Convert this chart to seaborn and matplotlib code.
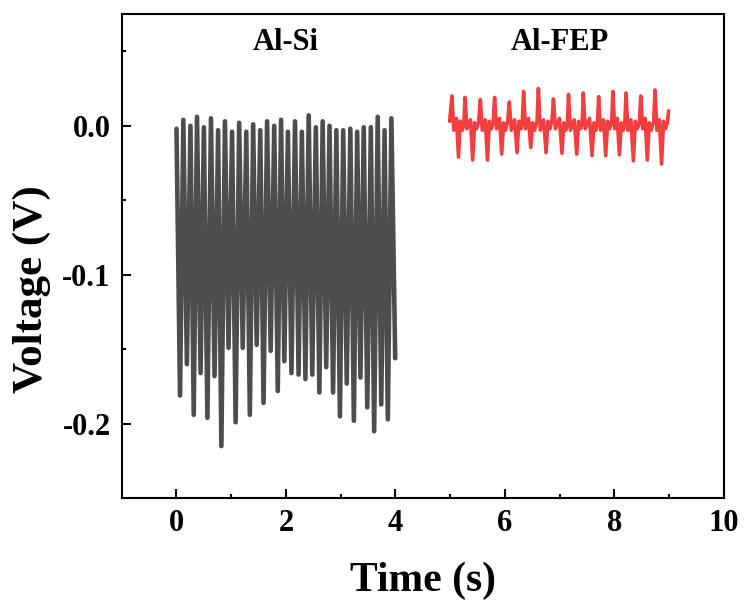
import numpy as np
import pandas as pd
import matplotlib.pyplot as plt
import seaborn as sns

# Al-Si trace, turning points (time in s, voltage in V)
si_peak_t = [0.000, 0.125, 0.255, 0.375, 0.500, 0.630, 0.760, 0.885, 1.015, 1.145,
             1.275, 1.400, 1.530, 1.655, 1.785, 1.910, 2.035, 2.165, 2.290, 2.415,
             2.545, 2.670, 2.795, 2.920, 3.045, 3.175, 3.300, 3.420, 3.550, 3.675,
             3.800, 3.925]
si_peak_v = [-0.002, 0.004, 0.000, 0.006, -0.001, 0.005, -0.003, 0.003, -0.004, 0.002,
             -0.004, 0.001, -0.003, 0.003, 0.000, 0.004, -0.004, 0.003, -0.004, 0.007,
             -0.001, 0.003, 0.000, -0.003, -0.003, -0.002, -0.004, -0.001, -0.001, 0.006,
             -0.003, 0.005]
si_trough_t = [0.065, 0.190, 0.315, 0.440, 0.565, 0.695, 0.820, 0.950, 1.080, 1.210,
               1.340, 1.465, 1.590, 1.720, 1.850, 1.970, 2.100, 2.230, 2.355, 2.480,
               2.610, 2.735, 2.860, 2.985, 3.110, 3.240, 3.360, 3.485, 3.610, 3.740,
               3.860, 3.995]
si_trough_v = [-0.181, -0.160, -0.194, -0.166, -0.196, -0.168, -0.215, -0.149, -0.199, -0.149,
               -0.194, -0.147, -0.186, -0.151, -0.178, -0.158, -0.166, -0.167, -0.170, -0.167,
               -0.179, -0.162, -0.179, -0.195, -0.173, -0.198, -0.169, -0.189, -0.205, -0.187,
               -0.197, -0.156]

# Al-FEP trace, vertices
fep_t = [4.990,
         5.030, 5.065, 5.115, 5.150, 5.185, 5.220, 5.250,
         5.270, 5.305, 5.370, 5.410, 5.445, 5.480, 5.520,
         5.550, 5.585, 5.640, 5.680, 5.715, 5.750, 5.785,
         5.810, 5.845, 5.900, 5.940, 5.975, 6.010, 6.050,
         6.080, 6.115, 6.175, 6.220, 6.255, 6.290, 6.315,
         6.340, 6.375, 6.430, 6.470, 6.505, 6.540, 6.585,
         6.610, 6.645, 6.705, 6.750, 6.785, 6.820, 6.860,
         6.885, 6.920, 6.995, 7.040, 7.075, 7.110, 7.140,
         7.160, 7.195, 7.265, 7.310, 7.345, 7.380, 7.410,
         7.430, 7.465, 7.545, 7.590, 7.625, 7.660, 7.690,
         7.710, 7.745, 7.800, 7.840, 7.875, 7.910, 7.950,
         7.970, 8.005, 8.050, 8.090, 8.125, 8.160, 8.190,
         8.210, 8.245, 8.300, 8.345, 8.380, 8.415, 8.455,
         8.480, 8.515, 8.560, 8.600, 8.635, 8.670, 8.715,
         8.740, 8.775, 8.820, 8.860, 8.895, 8.930, 8.965,
         8.990]
fep_v = [0.003,
         0.020, -0.003, 0.005, -0.021, 0.003, -0.003, 0.002,
         0.019, -0.002, 0.004, -0.023, 0.002, -0.002, 0.003,
         0.0175, -0.003, 0.004, -0.023, 0.003, -0.002, 0.002,
         0.019, -0.002, 0.005, -0.019, 0.002, -0.003, 0.003,
         0.016, -0.003, 0.004, -0.018, 0.003, -0.002, 0.002,
         0.023, -0.002, 0.005, -0.0145, 0.002, -0.003, 0.003,
         0.025, -0.003, 0.004, -0.018, 0.003, -0.002, 0.004,
         0.018, -0.002, 0.005, -0.0185, 0.002, -0.003, 0.002,
         0.021, -0.003, 0.004, -0.019, 0.003, -0.002, 0.002,
         0.022, -0.002, 0.005, -0.020, 0.002, -0.003, 0.003,
         0.0195, -0.003, 0.004, -0.020, 0.003, -0.002, 0.002,
         0.023, -0.002, 0.005, -0.0195, 0.002, -0.003, 0.003,
         0.022, -0.003, 0.004, -0.0235, 0.003, -0.002, 0.002,
         0.020, -0.002, 0.005, -0.023, 0.002, -0.003, 0.003,
         0.024, -0.003, 0.004, -0.0257, 0.003, -0.002, 0.002,
         0.010]

# interleave peaks and troughs into one zigzag trace
si_t = np.column_stack([si_peak_t, si_trough_t]).ravel()
si_v = np.column_stack([si_peak_v, si_trough_v]).ravel()
df_si = pd.DataFrame({"t": si_t, "v": si_v})
df_fep = pd.DataFrame({"t": fep_t, "v": fep_v})

sns.set_theme(style="ticks")
plt.rcParams["font.family"] = ["Liberation Serif", "DejaVu Serif"]
plt.rcParams["font.weight"] = "bold"
plt.rcParams["axes.unicode_minus"] = False
for key in ["text.color", "axes.labelcolor", "xtick.color", "ytick.color", "axes.edgecolor"]:
    plt.rcParams[key] = "black"

fig = plt.figure(figsize=(7.45, 6.03), dpi=100)
ax = fig.add_axes([0.1634, 0.1736, 0.8084, 0.8032])

sns.lineplot(data=df_si, x="t", y="v", ax=ax, color="#4d4d4d", lw=3.3,
             estimator=None, sort=False)
sns.lineplot(data=df_fep, x="t", y="v", ax=ax, color="#f23e3e", lw=2.6,
             estimator=None, sort=False)

ax.text(2.0, 0.056, "Al-Si", ha="center", va="center", fontsize=22, fontweight="bold")
ax.text(7.0, 0.056, "Al-FEP", ha="center", va="center", fontsize=22, fontweight="bold")

ax.set_xlim(-1, 10)
ax.set_ylim(-0.25, 0.075)
ax.set_xticks([0, 2, 4, 6, 8, 10])
ax.set_xticks([1, 3, 5, 7, 9], minor=True)
ax.set_yticks([0.0, -0.1, -0.2])
ax.set_yticklabels(["0.0", "-0.1", "-0.2"])
ax.set_yticks([0.05, -0.05, -0.15], minor=True)

ax.tick_params(which="both", direction="in", width=1.5, labelsize=22, pad=8,
               top=False, right=False, colors="black")
ax.tick_params(which="major", length=6.5)
ax.tick_params(which="minor", length=3)
for lab in ax.get_xticklabels() + ax.get_yticklabels():
    lab.set_fontweight("bold")
for sp in ax.spines.values():
    sp.set_visible(True)
    sp.set_linewidth(1.5)
    sp.set_color("black")

ax.set_xlabel("Time (s)", fontsize=30, fontweight="bold")
ax.set_ylabel("Voltage (V)", fontsize=31, fontweight="bold")
ax.xaxis.set_label_coords(0.5, -0.13)
ax.yaxis.set_label_coords(-0.118, 0.432)

fig.savefig("out.png", dpi=100)
